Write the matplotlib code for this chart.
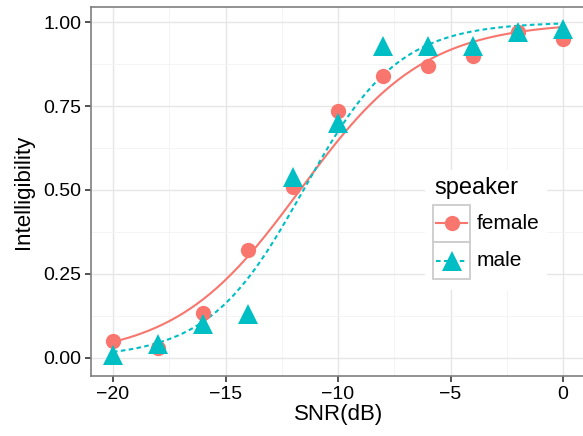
import numpy as np
import matplotlib
matplotlib.use('Agg')
from matplotlib import pyplot as plt
from matplotlib.lines import Line2D
from matplotlib.patches import Rectangle

plt.rcParams['font.family'] = ['Liberation Sans', 'DejaVu Sans']

# data
snr = np.array([-20, -18, -16, -14, -12, -10, -8, -6, -4, -2, 0])
female = np.array([0.05, 0.03, 0.135, 0.32, 0.51, 0.735, 0.84, 0.87, 0.90, 0.97, 0.95])
male = np.array([0.01, 0.04, 0.10, 0.13, 0.54, 0.70, 0.93, 0.93, 0.93, 0.97, 0.98])
speakers = ['female', 'male']
colors = {'female': '#F8766D', 'male': '#00BFC4'}


def logit_fit(x, p, n_iter=50):
	'''quasi-binomial glm on proportions, fitted with IRLS'''
	X = np.column_stack([np.ones_like(x, dtype=float), x])
	beta = np.zeros(2)
	for _ in range(n_iter):
		eta = X @ beta
		mu = 1 / (1 + np.exp(-eta))
		w = mu * (1 - mu)
		z = eta + (p - mu) / w
		beta = np.linalg.solve(X.T @ (X * w[:, None]), X.T @ (w * z))
	return beta


W, H = 583, 436
fig = plt.figure(figsize=(W / 100, H / 100), dpi=100)
ax = fig.add_axes([91 / W, 60 / H, 494.5 / W, 369 / H])

dash = (0, (2.2, 1.6))
styles = {'female': ('-', 'o', 11), 'male': (dash, '^', 14.5)}
xs = np.linspace(-20, 0, 200)
for name, vals in zip(speakers, [female, male]):
	ls, mk, ms = styles[name]
	b = logit_fit(snr, vals)
	ax.plot(xs, 1 / (1 + np.exp(-(b[0] + b[1] * xs))), color=colors[name], lw=1.5, ls=ls, zorder=3)
	ax.plot(snr, vals, ls='none', marker=mk, ms=ms, color=colors[name],
			markeredgewidth=0, zorder=4)

ax.set_xlim(-20.98, 1.0)
ax.set_ylim(-0.054, 1.045)
ax.set_xticks([-20, -15, -10, -5, 0])
ax.set_xticklabels(['\u221220', '\u221215', '\u221210', '\u22125', '0'])
ax.set_yticks([0, 0.25, 0.5, 0.75, 1.0])
ax.set_yticklabels(['0.00', '0.25', '0.50', '0.75', '1.00'])
ax.set_xticks([-17.5, -12.5, -7.5, -2.5], minor=True)
ax.set_yticks([0.125, 0.375, 0.625, 0.875], minor=True)
ax.grid(which='major', color='#E6E6E6', lw=1.0)
ax.grid(which='minor', color='#F2F2F2', lw=0.6)
ax.set_axisbelow(True)
ax.tick_params(which='major', direction='out', length=4, width=1.2, color='#333333',
			   labelsize=14, labelcolor='black', pad=3)
ax.tick_params(which='minor', length=0)
for s in ax.spines.values():
	s.set_color('#7F7F7F')
	s.set_linewidth(1.2)

ax.set_xlabel('SNR(dB)', fontsize=16, labelpad=1)
ax.set_ylabel('Intelligibility', fontsize=16, labelpad=7)

# legend drawn by hand (ggplot style key boxes), pixel positions -> figure coords
def fx(px):
	return px / W

def fy(py):
	return 1 - py / H

fig.add_artist(Rectangle((fx(425), fy(290)), fx(547) - fx(425), fy(170) - fy(290),
						 transform=fig.transFigure, facecolor='white', edgecolor='none', zorder=5))
fig.text(fx(434), fy(188), 'speaker', fontsize=17, va='center', ha='left', zorder=6)
for i, name in enumerate(speakers):
	ls, mk, ms = styles[name]
	top, bot = 205 + 37 * i, 242 + 37 * i
	fig.add_artist(Rectangle((fx(433), fy(bot)), fx(470) - fx(433), fy(top) - fy(bot),
							 transform=fig.transFigure, facecolor='white', edgecolor='#CCCCCC',
							 lw=1.3, zorder=6))
	yc = fy((top + bot) / 2)
	fig.add_artist(Line2D([fx(436), fx(467)], [yc, yc], transform=fig.transFigure,
						  color=colors[name], lw=1.5, ls=ls, zorder=7))
	fig.add_artist(Line2D([fx(451.5)], [yc], transform=fig.transFigure, ls='none', marker=mk,
						  ms=ms, color=colors[name], markeredgewidth=0, zorder=8))
	fig.text(fx(477), yc, name, fontsize=15, va='center', ha='left', zorder=8)

fig.savefig('out.png', dpi=100)
